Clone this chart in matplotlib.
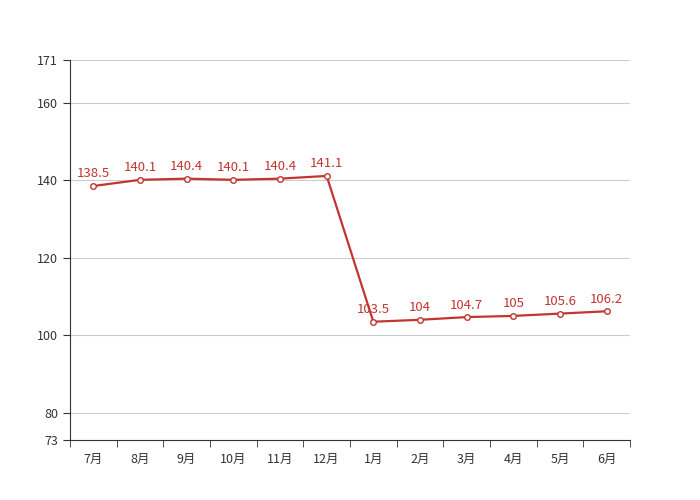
import matplotlib
matplotlib.use("Agg")
import matplotlib.pyplot as plt
import numpy as np

plt.rcParams['font.family'] = ['Noto Sans CJK SC', 'DejaVu Sans']

months = ['7月', '8月', '9月', '10月', '11月', '12月', '1月', '2月', '3月', '4月', '5月', '6月']
values = [138.5, 140.1, 140.4, 140.1, 140.4, 141.1, 103.5, 104, 104.7, 105, 105.6, 106.2]
labels = ['138.5', '140.1', '140.4', '140.1', '140.4', '141.1', '103.5', '104', '104.7', '105', '105.6', '106.2']
y_ticks = [73, 80, 100, 120, 140, 160, 171]

red = '#c23531'
fig = plt.figure(figsize=(7, 5), dpi=100)
ax = fig.add_axes([0.1, 0.12, 0.8, 0.76])

x = np.arange(len(months))
ax.plot(x, values, color=red, lw=1.6, marker='o', ms=4, mfc='white', mec=red, mew=1, zorder=3)
for xi, v, t in zip(x, values, labels):
    ax.annotate(t, (xi, v), xytext=(0, 4), textcoords='offset points',
                ha='center', va='bottom', color=red, fontsize=9.5)

ax.set_xlim(-0.5, len(months) - 0.5)
ax.set_ylim(73, 171)
ax.set_yticks(y_ticks)
ax.set_yticklabels([str(t) for t in y_ticks])
for t in y_ticks[1:]:
    ax.axhline(t, color='#cccccc', lw=0.8, zorder=1)

ax.set_xticks(x)
ax.set_xticklabels(months)
ax.set_xticks(np.arange(-0.5, len(months)), minor=True)
ax.tick_params(axis='x', which='major', length=0, pad=9)
ax.tick_params(axis='x', which='minor', length=5, color='#333333')
ax.tick_params(axis='y', length=5, color='#333333')
ax.tick_params(labelsize=9, labelcolor='#333333')

for s in ['top', 'right']:
    ax.spines[s].set_visible(False)
for s in ['left', 'bottom']:
    ax.spines[s].set_color('#333333')

fig.savefig('out.png', dpi=100)
